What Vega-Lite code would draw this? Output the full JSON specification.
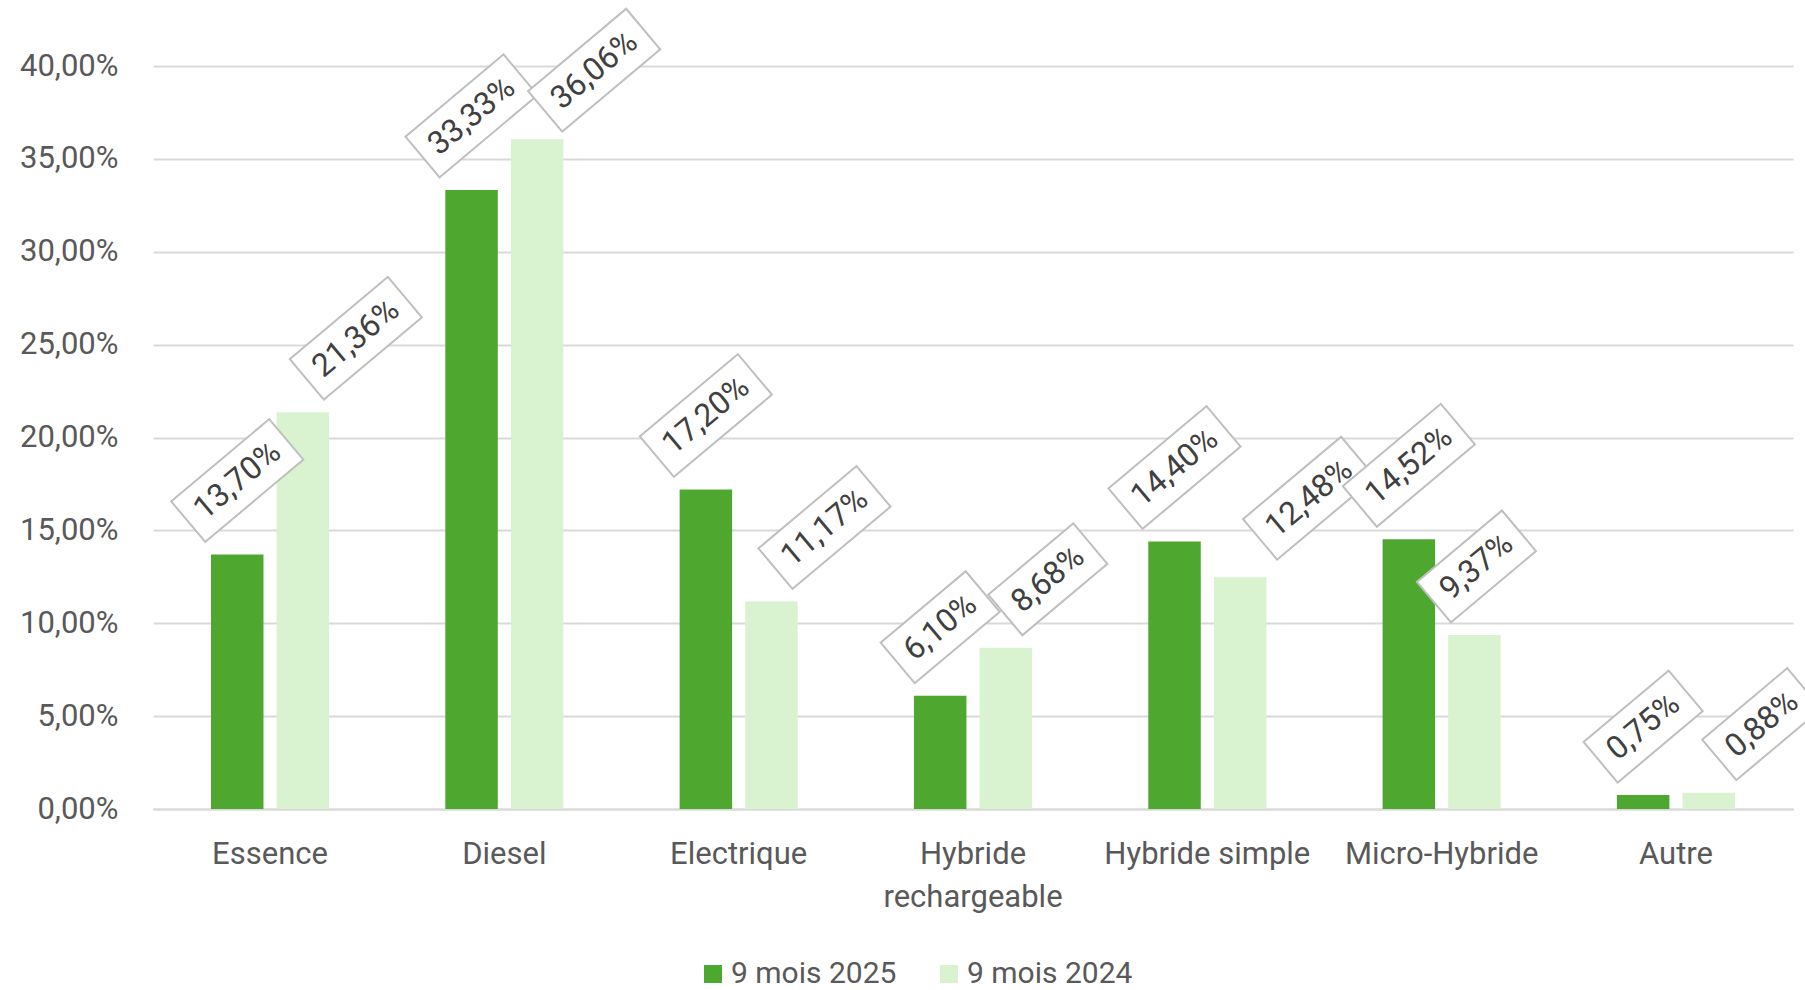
{
  "$schema": "https://vega.github.io/schema/vega-lite/v6.json",
  "width": 1640,
  "height": 743,
  "autosize": {"type": "none"},
  "padding": {"left": 153, "top": 66, "right": 12, "bottom": 181},
  "background": "white",
  "config": {
    "view": {"stroke": null},
    "font": "Roboto",
    "axis": {"labelFont": "Roboto", "labelColor": "#595959", "labelFontSize": 31, "ticks": false, "title": null, "labelLimit": 0},
    "legend": {"labelFont": "Roboto", "labelLimit": 0}
  },
  "data": {
    "values": [
      {"cat": "Essence", "series": "9 mois 2025", "v": 13.70},
      {"cat": "Essence", "series": "9 mois 2024", "v": 21.36},
      {"cat": "Diesel", "series": "9 mois 2025", "v": 33.33},
      {"cat": "Diesel", "series": "9 mois 2024", "v": 36.06},
      {"cat": "Electrique", "series": "9 mois 2025", "v": 17.20},
      {"cat": "Electrique", "series": "9 mois 2024", "v": 11.17},
      {"cat": "Hybride rechargeable", "series": "9 mois 2025", "v": 6.10},
      {"cat": "Hybride rechargeable", "series": "9 mois 2024", "v": 8.68},
      {"cat": "Hybride simple", "series": "9 mois 2025", "v": 14.40},
      {"cat": "Hybride simple", "series": "9 mois 2024", "v": 12.48},
      {"cat": "Micro-Hybride", "series": "9 mois 2025", "v": 14.52},
      {"cat": "Micro-Hybride", "series": "9 mois 2024", "v": 9.37},
      {"cat": "Autre", "series": "9 mois 2025", "v": 0.75},
      {"cat": "Autre", "series": "9 mois 2024", "v": 0.88}
    ]
  },
  "encoding": {
    "x": {
      "field": "cat", "type": "nominal",
      "sort": ["Essence", "Diesel", "Electrique", "Hybride rechargeable", "Hybride simple", "Micro-Hybride", "Autre"],
      "scale": {"paddingInner": 0.496, "paddingOuter": 0.2475},
      "axis": {
        "labelAngle": 0, "labelPadding": 30, "labelBaseline": "top", "labelLineHeight": 43,
        "domainColor": "#D9D9D9", "domainWidth": 2, "grid": false,
        "labelExpr": "datum.label == 'Hybride rechargeable' ? ['Hybride', 'rechargeable'] : datum.label"
      }
    },
    "xOffset": {"field": "series", "type": "nominal", "sort": ["9 mois 2025", "9 mois 2024"], "scale": {"paddingInner": 0.2}},
    "y": {
      "field": "v", "type": "quantitative",
      "scale": {"domain": [0, 40], "nice": false},
      "axis": {
        "values": [0, 5, 10, 15, 20, 25, 30, 35, 40],
        "domain": false, "gridColor": "#D9D9D9", "gridWidth": 2,
        "labelPadding": 35, "labelBaseline": "middle",
        "labelExpr": "replace(format(datum.value, '.2f'), '.', ',') + '%'"
      }
    }
  },
  "layer": [
    {
      "mark": {"type": "bar"},
      "encoding": {
        "color": {
          "field": "series", "type": "nominal",
          "sort": ["9 mois 2025", "9 mois 2024"],
          "scale": {"domain": ["9 mois 2025", "9 mois 2024"], "range": ["#4EA72E", "#D9F2D0"]},
          "legend": {
            "title": null, "orient": "none", "direction": "horizontal",
            "legendX": 545, "legendY": 893,
            "symbolType": "square", "symbolSize": 324, "symbolStrokeWidth": 0,
            "labelFontSize": 30, "labelColor": "#595959", "labelOffset": 3, "columnPadding": 37
          }
        }
      }
    },
    {
      "mark": {
        "type": "point", "filled": true, "fill": "white", "stroke": "#BFBFBF", "strokeWidth": 2, "size": 4, "angle": 320, "opacity": 1,
        "shape": {"expr": "'M' + (((datum.series == '9 mois 2025' ? 0 : datum.cat == 'Diesel' ? 57 : datum.cat == 'Hybride rechargeable' ? 42 : datum.cat == 'Hybride simple' ? 69 : datum.cat == 'Micro-Hybride' ? 2 : 53) * 0.766 - (datum.series == '9 mois 2024' && datum.cat == 'Diesel' ? -69 : datum.series == '9 mois 2024' && datum.cat == 'Hybride simple' ? -79 : datum.v < 10 ? -68.5 : -74) * 0.6428) - (datum.v < 10 ? 55.5 : 64)) + ',' + (((datum.series == '9 mois 2025' ? 0 : datum.cat == 'Diesel' ? 57 : datum.cat == 'Hybride rechargeable' ? 42 : datum.cat == 'Hybride simple' ? 69 : datum.cat == 'Micro-Hybride' ? 2 : 53) * 0.6428 + (datum.series == '9 mois 2024' && datum.cat == 'Diesel' ? -69 : datum.series == '9 mois 2024' && datum.cat == 'Hybride simple' ? -79 : datum.v < 10 ? -68.5 : -74) * 0.766) - 26.5) + 'h' + (datum.v < 10 ? 111 : 128) + 'v53h' + (datum.v < 10 ? -111 : -128) + 'Z'"}
      },
      "encoding": {}
    },
    {
      "mark": {
        "type": "text", "angle": 320, "fontSize": 32, "font": "Roboto", "fill": "#404040", "align": "center", "baseline": "middle",
        "dx": {"expr": "(datum.series == '9 mois 2025' ? 0 : datum.cat == 'Diesel' ? 57 : datum.cat == 'Hybride rechargeable' ? 42 : datum.cat == 'Hybride simple' ? 69 : datum.cat == 'Micro-Hybride' ? 2 : 53) * 0.766 - (datum.series == '9 mois 2024' && datum.cat == 'Diesel' ? -69 : datum.series == '9 mois 2024' && datum.cat == 'Hybride simple' ? -79 : datum.v < 10 ? -68.5 : -74) * 0.6428"},
        "dy": {"expr": "(datum.series == '9 mois 2025' ? 0 : datum.cat == 'Diesel' ? 57 : datum.cat == 'Hybride rechargeable' ? 42 : datum.cat == 'Hybride simple' ? 69 : datum.cat == 'Micro-Hybride' ? 2 : 53) * 0.6428 + (datum.series == '9 mois 2024' && datum.cat == 'Diesel' ? -69 : datum.series == '9 mois 2024' && datum.cat == 'Hybride simple' ? -79 : datum.v < 10 ? -68.5 : -74) * 0.766"},
        "text": {"expr": "replace(format(datum.v, '.2f'), '.', ',') + '%'"}
      },
      "encoding": {}
    }
  ]
}
